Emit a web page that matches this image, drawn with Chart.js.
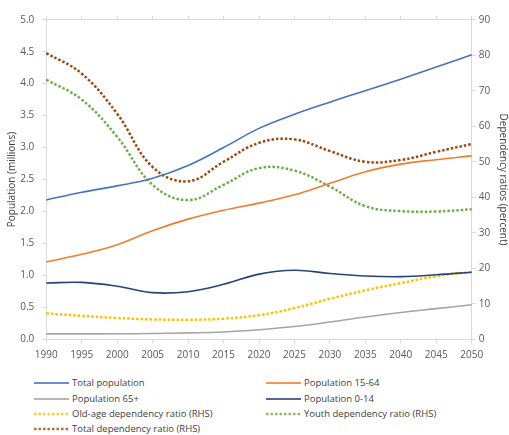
<!DOCTYPE html>
<html>
<head>
<meta charset="utf-8">
<script src="https://cdn.jsdelivr.net/npm/chart.js@4.4.1/dist/chart.umd.min.js"></script>
<style>
  body { margin: 0; background: #fff; font-family: "Open Sans", sans-serif; }
  #wrap { position: relative; width: 509px; height: 362px; }
  #legend { position: absolute; left: 0; top: 362px; width: 509px; height: 73px; }
  .item { position: absolute; height: 14px; font-size: 9.5px; line-height: 14px; color: #404040; white-space: nowrap; }
  .item svg { position: absolute; left: 0; top: 5px; }
  .item span { position: absolute; left: 38px; top: 0; }
</style>
</head>
<body>
<div id="wrap"><canvas id="popChart"></canvas></div>
<div id="legend"></div>
<script>
// Years on the x axis
const years = ['1990', '1995', '2000', '2005', '2010', '2015', '2020', '2025', '2030', '2035', '2040', '2045', '2050'];

// Population, millions (left axis)
const totalPop = [2.18, 2.30, 2.40, 2.52, 2.72, 3.00, 3.30, 3.52, 3.71, 3.89, 4.07, 4.26, 4.45];
const pop1564  = [1.21, 1.33, 1.48, 1.70, 1.88, 2.02, 2.13, 2.26, 2.44, 2.62, 2.74, 2.81, 2.87];
const pop65    = [0.085, 0.085, 0.086, 0.09, 0.10, 0.115, 0.15, 0.20, 0.27, 0.35, 0.42, 0.48, 0.54];
const pop014   = [0.88, 0.89, 0.83, 0.73, 0.745, 0.86, 1.02, 1.08, 1.03, 0.99, 0.98, 1.01, 1.05];

// Dependency ratios, percent (right axis)
const oldAgeRatio = [7.3, 6.6, 6.0, 5.6, 5.5, 5.8, 6.8, 8.8, 11.4, 13.8, 15.8, 17.8, 19.0];
const youthRatio  = [73.1, 67.5, 57, 43.5, 39.2, 43.5, 48.2, 47.5, 43, 37.5, 36.1, 36, 36.6];
const totalRatio  = [80.6, 74.8, 63.5, 48.5, 44.5, 50, 55.3, 56.3, 53, 50, 50.5, 52.8, 55];

const AXIS_GREY = '#d9d9d9';
const TEXT_GREY = '#595959';
const DOTS = [2.5, 2];

Chart.defaults.font.family = '"Open Sans", sans-serif';
Chart.defaults.font.size = 10;
Chart.defaults.color = TEXT_GREY;
Chart.defaults.elements.point.radius = 0;

function solid(label, data, colour) {
    return { label: label, data: data, borderColor: colour, backgroundColor: colour,
             borderWidth: 1.6, yAxisID: 'y', tension: 0.4 };
}
function dotted(label, data, colour) {
    return { label: label, data: data, borderColor: colour, backgroundColor: colour,
             borderWidth: 2.5, borderDash: DOTS, yAxisID: 'y1', tension: 0.4 };
}

const frame = { display: true, color: AXIS_GREY, width: 1 };
const tickMarks = { drawOnChartArea: false, drawTicks: true, tickLength: 4, color: AXIS_GREY };

const popChart = new Chart('popChart', {
    type: 'line',
    data: {
        labels: years,
        datasets: [
            solid('Total population', totalPop, '#4472c4'),
            solid('Population 15-64', pop1564, '#ed7d31'),
            solid('Population 65+', pop65, '#a5a5a5'),
            solid('Population 0-14', pop014, '#264478'),
            dotted('Old-age dependency ratio (RHS)', oldAgeRatio, '#ffc000'),
            dotted('Youth dependency ratio (RHS)', youthRatio, '#70ad47'),
            dotted('Total dependency ratio (RHS)', totalRatio, '#9e480e')
        ]
    },
    options: {
        responsive: true,
        maintainAspectRatio: false,
        animation: false,
        layout: { padding: 0 },
        plugins: {
            legend: { display: false },
            tooltip: { enabled: false }
        },
        scales: {
            x: {
                offset: false,
                border: frame,
                grid: tickMarks,
                ticks: { padding: 6, maxRotation: 0, autoSkip: false },
                afterFit: s => { s.height = 22.7; }
            },
            x2: {
                type: 'category',
                labels: years,
                position: 'top',
                offset: false,
                border: frame,
                grid: tickMarks,
                ticks: { display: false },
                afterFit: s => { s.height = 19.7; }
            },
            y: {
                position: 'left',
                min: 0, max: 5,
                border: frame,
                grid: tickMarks,
                ticks: { stepSize: 0.5, padding: 8, callback: v => v.toFixed(1) },
                title: { display: true, text: 'Population (millions)', color: '#404040', padding: 6 },
                afterFit: s => { s.width = 46.3; }
            },
            y1: {
                position: 'right',
                min: 0, max: 90,
                border: frame,
                grid: tickMarks,
                ticks: { stepSize: 10, padding: 3 },
                title: { display: true, text: 'Dependency ratios (percent)', color: '#404040', padding: 0 },
                afterFit: s => { s.width = 37.3; }
            }
        }
    }
});

// Two-column legend under the chart, built from the datasets
const legendCols = [34, 266];
const legendRows = [21.3, 36.7, 51.7, 66.7];
const legendBox = document.getElementById('legend');
popChart.data.datasets.forEach((ds, i) => {
    const item = document.createElement('div');
    item.className = 'item';
    item.style.left = legendCols[i % 2] + 'px';
    item.style.top = (legendRows[Math.floor(i / 2)] - 7) + 'px';
    const dash = ds.borderDash ? ' stroke-dasharray="2.5 2"' : '';
    const w = ds.borderDash ? 2.5 : 2;
    item.innerHTML = '<svg width="35" height="4"><line x1="0" y1="2" x2="35" y2="2" stroke="' +
        ds.borderColor + '" stroke-width="' + w + '" stroke-opacity="0.8"' + dash + '/></svg><span>' +
        ds.label + '</span>';
    legendBox.appendChild(item);
});
</script>
</body>
</html>
